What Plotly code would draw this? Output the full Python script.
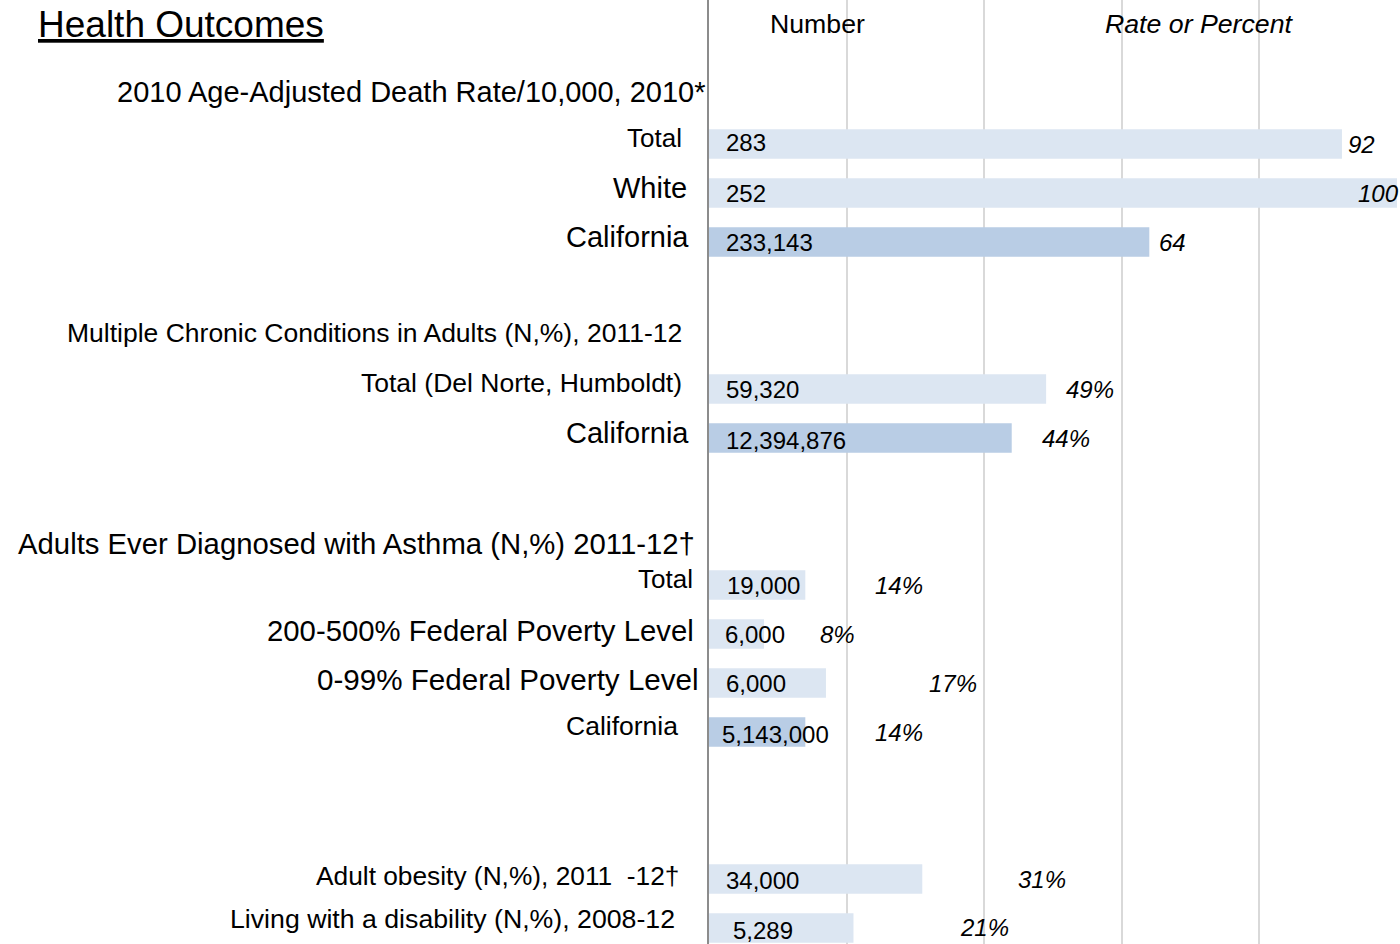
import plotly.graph_objects as go

# ---------------- data ----------------
row_labels = [
    "2010 Age-Adjusted Death Rate/10,000, 2010*",
    "Total",
    "White",
    "California",
    "",
    "Multiple Chronic Conditions in Adults (N,%), 2011-12",
    "Total (Del Norte, Humboldt)",
    "California",
    "",
    "Adults Ever Diagnosed with Asthma (N,%) 2011-12\u2020",
    "Total",
    "200-500% Federal Poverty Level",
    "0-99% Federal Poverty Level",
    "California",
    "",
    "",
    "Adult obesity (N,%), 2011  -12\u2020",
    "Living with a disability (N,%), 2008-12",
]
numbers = [None, 283, 252, 233143, None,
           None, 59320, 12394876, None,
           None, 19000, 6000, 6000, 5143000, None, None,
           34000, 5289]
rates = [None, 92, 100, 64, None,
         None, 49, 44, None,
         None, 14, 8, 17, 14, None, None,
         31, 21]
rate_units = [None, "", "", "", None,
              None, "%", "%", None,
              None, "%", "%", "%", "%", None, None,
              "%", "%"]

title_text = "Health Outcomes"
col_number = "Number"
col_rate = "Rate or Percent"

# ---------------- styles ----------------
FONT = "Liberation Sans, Arial, sans-serif"
W, H = 1400, 944
PLOT_L, PLOT_R = 709, 1397
ROW0_PX, ROW_STEP = 95, 49

label_sizes = [29, 26, 29, 29, 0, 26.5, 26.5, 29, 0, 29.3, 26, 29.3, 29.6, 26.5, 0, 0, 26.3, 26.7]
label_right_px = [708, 684, 689, 691, 0, 684, 684, 691, 0, 697, 695, 696, 701, 680, 0, 0, 681, 677]
label_yshift = [3, 6, 5, 5, 0, 7, 6, 5, 0, -7, 6, 4, 4, 6, 0, 0, 3, 9]
rate_xshift = [0, 4, -41, 8, 0, 0, 18, 28, 0, 0, 68, 54, 101, 68, 0, 0, 94, 105]
num_xshift = [0, 15, 15, 15, 0, 0, 15, 15, 0, 0, 16, 14, 15, 11, 0, 0, 15, 22]
num_yshift = [0, 2, 0, 0, 0, 0, 0, -2, 0, 0, 0, 0, 0, -2, 0, 0, -1, -2]
rate_yshift = [0, 0, 0, 0, 0, 0, 0, 0, 0, 0, 0, 0, 0, 0, 0, 0, 0, 1]

LIGHT = "#dce6f2"
DARK = "#b9cde5"

n = len(row_labels)
ys = list(range(n))
colors = [DARK if lab == "California" else LIGHT for lab in row_labels]

fig = go.Figure()
fig.add_trace(go.Bar(
    x=rates, y=ys, orientation="h", width=0.6,
    marker=dict(color=colors, line=dict(width=0)),
    hoverinfo="skip", showlegend=False,
))

annotations = []
for i in range(n):
    lab = row_labels[i]
    if lab:
        annotations.append(dict(
            x=0, y=ys[i], xref="x", yref="y", text=lab, showarrow=False,
            xanchor="right", yanchor="middle",
            xshift=-(PLOT_L - label_right_px[i]), yshift=label_yshift[i],
            font=dict(family=FONT, size=label_sizes[i], color="#000000"),
        ))
    if numbers[i] is not None:
        annotations.append(dict(
            x=0, y=ys[i], xref="x", yref="y", text=f"{numbers[i]:,}", showarrow=False,
            xanchor="left", yanchor="middle", xshift=num_xshift[i], yshift=num_yshift[i],
            font=dict(family=FONT, size=24, color="#000000"),
        ))
    if rates[i] is not None:
        annotations.append(dict(
            x=rates[i], y=ys[i], xref="x", yref="y", text=f"{rates[i]}{rate_units[i]}",
            showarrow=False, xanchor="left", yanchor="middle",
            xshift=rate_xshift[i], yshift=rate_yshift[i],
            font=dict(family=FONT, size=24, color="#000000", style="italic"),
        ))

def px_to_paper(px):
    return (px - PLOT_L) / (PLOT_R - PLOT_L)

header_y = 1 - 24 / H
annotations.append(dict(
    x=px_to_paper(36), y=header_y, xref="paper", yref="paper", text=title_text,
    showarrow=False, xanchor="left", yanchor="middle",
    font=dict(family=FONT, size=37, color="#000000", lineposition="under"),
))
annotations.append(dict(
    x=px_to_paper(817), y=header_y, xref="paper", yref="paper", text=col_number,
    showarrow=False, xanchor="center", yanchor="middle",
    font=dict(family=FONT, size=26.7, color="#000000"),
))
annotations.append(dict(
    x=px_to_paper(1199), y=header_y, xref="paper", yref="paper", text=col_rate,
    showarrow=False, xanchor="center", yanchor="middle",
    font=dict(family=FONT, size=26.7, color="#000000", style="italic"),
))

y_top = -ROW0_PX / ROW_STEP
y_bot = (H - ROW0_PX) / ROW_STEP

fig.update_layout(
    width=W, height=H,
    margin=dict(l=PLOT_L, r=W - PLOT_R, t=0, b=0, pad=0),
    paper_bgcolor="white", plot_bgcolor="white",
    annotations=annotations,
    xaxis=dict(range=[0, 100], tick0=0, dtick=20, showgrid=True, gridcolor="#d9d9d9",
               gridwidth=2, zeroline=False, showticklabels=False, ticks="", showline=False,
               fixedrange=True),
    yaxis=dict(range=[y_bot, y_top], showgrid=False, zeroline=False, showticklabels=False,
               ticks="", showline=True, linecolor="#8c8c8c", linewidth=2, fixedrange=True),
    bargap=0.4,
)

fig.write_html(
    "out.html",
    config={"displayModeBar": False},
    post_script="document.body.style.margin='0';document.body.style.overflow='hidden';",
)
